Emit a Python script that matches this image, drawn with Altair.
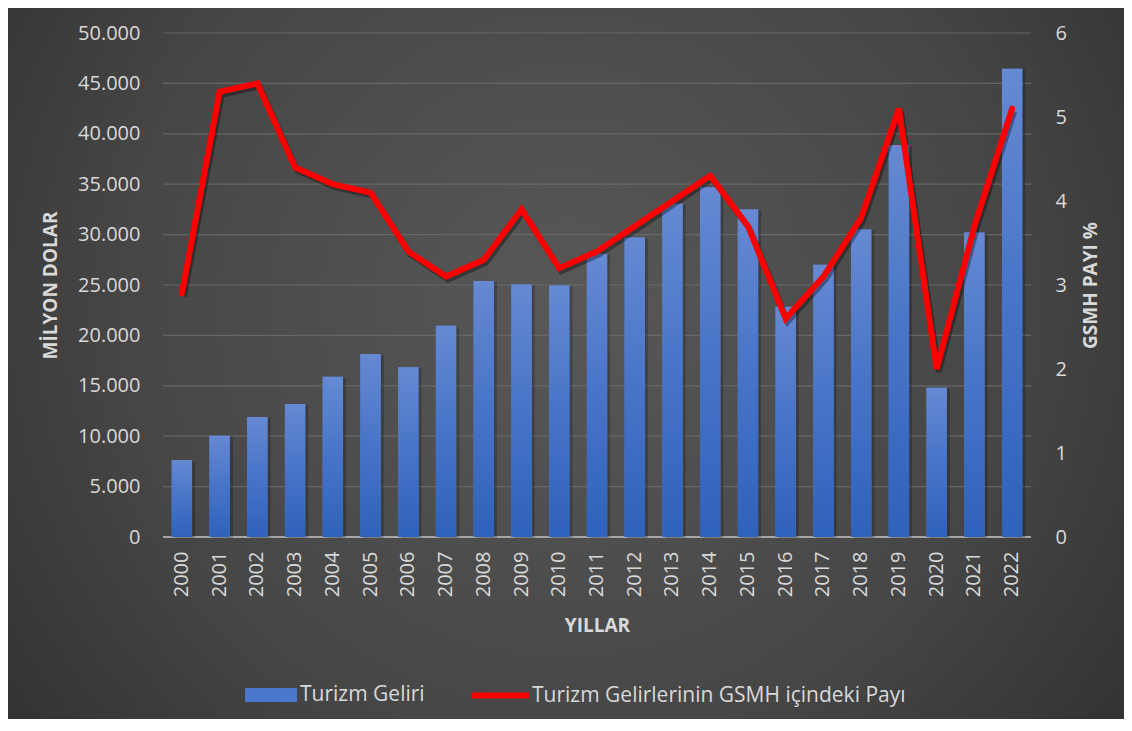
import altair as alt
import pandas as pd

years = [str(y) for y in range(2000, 2023)]
revenue = [7650, 10050, 11900, 13200, 15900, 18150, 16850, 20950, 25400, 25050,
           24950, 28100, 29700, 33050, 34700, 32500, 22850, 27000, 30500, 38900,
           14800, 30200, 46450]
share = [2.9, 5.3, 5.4, 4.4, 4.2, 4.1, 3.4, 3.1, 3.3, 3.9, 3.2, 3.4, 3.7, 4.0,
         4.3, 3.7, 2.6, 3.1, 3.8, 5.1, 2.0, 3.7, 5.1]
y_left_ticks = list(range(0, 50001, 5000))
y_right_ticks = [0, 1, 2, 3, 4, 5, 6]
bar_label = "Turizm Geliri"
line_label = "Turizm Gelirlerinin GSMH içindeki Payı"

W, H = 868, 504
PL, PT, PR, PB = 155, 25, 93, 182
TXT = "#d9d9d9"
FONT = "Open Sans"

df = pd.DataFrame({"year": years, "revenue": revenue, "share": share,
                   "s1": bar_label, "s2": line_label})
grid_df = pd.DataFrame({"v": y_left_ticks[1:]})
base_df = pd.DataFrame({"v": [0]})
bg_df = pd.DataFrame({"k": [0]})

xscale = alt.Scale(paddingInner=0.46, paddingOuter=0.23)
x_axis = alt.Axis(title="YILLAR", labelAngle=270, labelFontSize=20, labelColor=TXT,
                  labelFont=FONT, labelPadding=14, ticks=False, domain=False,
                  grid=False, titleFontSize=19, titleFontWeight="bold",
                  titleColor=TXT, titleFont=FONT, titlePadding=20, zindex=1)
lscale = alt.Scale(domain=[0, 50000], nice=False, zero=True)
rscale = alt.Scale(domain=[0, 6], nice=False, zero=True)

bg = alt.Chart(bg_df).mark_rect(
    fill={"gradient": "radial", "x1": 0.5, "y1": 0.45, "r1": 0,
          "x2": 0.5, "y2": 0.45, "r2": 0.72,
          "stops": [{"offset": 0, "color": "#585858"},
                    {"offset": 0.55, "color": "#464646"},
                    {"offset": 1, "color": "#2a2a2a"}]}
).encode(x=alt.value(-PL), x2=alt.value(W + PR), y=alt.value(-PT), y2=alt.value(H + PB))

grid = alt.Chart(grid_df).mark_rule(color="#6e6e6e", strokeWidth=1.2, opacity=0.8).encode(
    y=alt.Y("v:Q", scale=lscale, axis=None))

base = alt.Chart(base_df).mark_rule(color="#a6a6a6", strokeWidth=2).encode(
    y=alt.Y("v:Q", scale=lscale, axis=None))

bars_shadow = alt.Chart(df).mark_bar(color="#000000", opacity=0.22, xOffset=3, yOffset=1).encode(
    x=alt.X("year:O", scale=xscale, axis=x_axis),
    y=alt.Y("revenue:Q", scale=lscale, axis=None))

bars_solid = alt.Chart(df).mark_bar().encode(
    x=alt.X("year:O", scale=xscale, axis=x_axis),
    y=alt.Y("revenue:Q", scale=lscale,
            axis=alt.Axis(title="MİLYON DOLAR", orient="left", values=y_left_ticks,
                          labelExpr="replace(format(datum.value, ','), ',', '.')",
                          labelFontSize=20, labelColor=TXT, labelFont=FONT,
                          labelPadding=23, ticks=False, domain=False, grid=False,
                          titleFontSize=19, titleFontWeight="bold", titleColor=TXT,
                          titleFont=FONT, titlePadding=17, zindex=1)),
    color=alt.Color("s1:N", scale=alt.Scale(domain=[bar_label], range=["#4a78cc"]),
                    legend=alt.Legend(title=None, orient="none", legendX=82, legendY=636,
                                      symbolType="M-1,-0.27H1V0.27H-1Z", symbolSize=2704,
                                      symbolStrokeWidth=0, labelFontSize=21,
                                      labelColor=TXT, labelFont=FONT, labelOffset=3,
                                      labelLimit=0, padding=0, zindex=1)))

bars_grad = alt.Chart(df).mark_bar(
    fill={"gradient": "linear", "x1": 0, "y1": 0, "x2": 0, "y2": 1,
          "stops": [{"offset": 0, "color": "#6689d2"},
                    {"offset": 0.5, "color": "#4774c8"},
                    {"offset": 1, "color": "#2f62bb"}]}
).encode(
    x=alt.X("year:O", scale=xscale, axis=x_axis),
    y=alt.Y("revenue:Q", scale=lscale, axis=None))

line_shadow = alt.Chart(df).mark_line(color="#000000", opacity=0.35, strokeWidth=6,
                                      xOffset=2, yOffset=3, strokeJoin="miter").encode(
    x=alt.X("year:O", scale=xscale, axis=x_axis),
    y=alt.Y("share:Q", scale=rscale, axis=None))

line = alt.Chart(df).mark_line(strokeWidth=6, strokeJoin="miter", strokeCap="round").encode(
    x=alt.X("year:O", scale=xscale, axis=x_axis),
    y=alt.Y("share:Q", scale=rscale,
            axis=alt.Axis(title="GSMH PAYI %", orient="right", values=y_right_ticks,
                          labelFontSize=20, labelColor=TXT, labelFont=FONT,
                          labelPadding=24, ticks=False, domain=False, grid=False,
                          titleAngle=270, titleFontSize=19, titleFontWeight="bold",
                          titleColor=TXT, titleFont=FONT, titlePadding=34, zindex=1)),
    stroke=alt.Stroke("s2:N", scale=alt.Scale(domain=[line_label], range=["#ff0000"]),
                      legend=alt.Legend(title=None, orient="none", legendX=306, legendY=631,
                                        symbolType="stroke", symbolSize=3249,
                                        symbolStrokeWidth=6, labelFontSize=21,
                                        labelColor=TXT, labelFont=FONT, labelOffset=0,
                                        labelLimit=0, padding=0, zindex=1)))

chart = alt.layer(bg, grid, base, bars_shadow, bars_solid, bars_grad, line_shadow, line).resolve_scale(
    y="independent").properties(
    width=W, height=H,
    autosize=alt.AutoSizeParams(type="none"),
    padding={"left": PL, "top": PT, "right": PR, "bottom": PB},
    background="#2a2a2a"
).configure_view(stroke=None).configure(font=FONT)

chart.save("out.html", embed_options={"renderer": "svg", "actions": False})
